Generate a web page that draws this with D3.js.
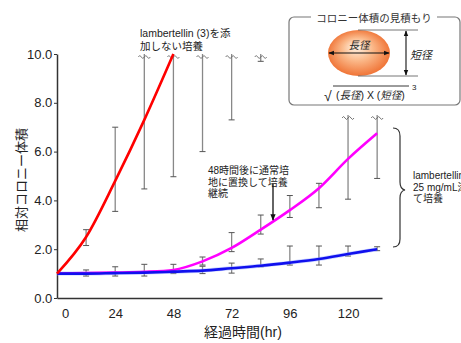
<!DOCTYPE html>
<html>
<head>
<meta charset="utf-8">
<script src="https://cdn.jsdelivr.net/npm/d3@7"></script>
<style>
  body { margin: 0; background: #fff; }
  text { font-family: "Liberation Sans", Arial, sans-serif; }
  .jp { font-family: "Liberation Sans", "Noto Sans CJK JP", sans-serif; }
</style>
</head>
<body>
<div id="chart"></div>
<script>
// Data (hours, relative colony volume)
const hours = [0, 12, 24, 36, 48, 60, 72, 84, 96, 108, 120, 132];
const redHours = [0, 12, 24, 36, 48];
const redMean = [1.0, 2.5, 4.8, 7.3, 10.0];
const magentaMean = [1.0, 1.02, 1.04, 1.07, 1.15, 1.5, 2.05, 2.8, 3.6, 4.5, 5.7, 6.75];
const blueMean = [1.0, 1.0, 1.02, 1.04, 1.08, 1.12, 1.22, 1.32, 1.45, 1.6, 1.8, 2.0];

const redBarHours = [12, 24, 36, 48, 60, 72, 84];
const redLow = [2.15, 3.55, 4.47, 4.97, 6.0, 7.3, 9.7];
const redHigh = [2.8, 7.0, 12, 12, 12, 12, 12];
const redCut = 10;

const magBarHours = [60, 72, 84, 96, 108, 120, 132];
const magLow = [1.35, 1.9, 2.62, 3.3, 3.7, 4.05, 4.9];
const magHigh = [1.68, 2.68, 3.4, 4.2, 4.7, 9, 9];
const magCut = 7.5;

const blueBarHours = [12, 24, 36, 48, 60, 72, 84, 96, 108, 120, 132];
const blueLow = [0.9, 0.9, 0.9, 1.0, 1.0, 1.02, 1.28, 1.35, 1.35, 1.72, 1.94];
const blueHigh = [1.15, 1.28, 1.38, 1.38, 1.3, 1.43, 1.6, 2.13, 2.13, 2.13, 2.1];

const yTicks = [0, 2, 4, 6, 8, 10];
const xTicks = [0, 24, 48, 72, 96, 120];

const width = 461, height = 343;
const svg = d3.select('#chart').append('svg')
  .attr('width', width).attr('height', height);

const x = d3.scaleLinear().domain([0, 134]).range([57, 382]);
const y = d3.scaleLinear().domain([0, 10]).range([298, 54]);

const defs = svg.append('defs');
const grad = defs.append('radialGradient').attr('id', 'egg')
  .attr('cx', '50%').attr('cy', '50%').attr('r', '55%')
  .attr('fx', '45%').attr('fy', '35%');
grad.append('stop').attr('offset', '0%').attr('stop-color', '#fff6ea');
grad.append('stop').attr('offset', '45%').attr('stop-color', '#fbb98a');
grad.append('stop').attr('offset', '100%').attr('stop-color', '#ee6a2a');

defs.append('marker').attr('id', 'arr')
  .attr('viewBox', '0 0 10 10').attr('refX', 9).attr('refY', 5)
  .attr('markerWidth', 5).attr('markerHeight', 5)
  .attr('orient', 'auto-start-reverse')
  .append('path').attr('d', 'M0,1 L10,5 L0,9 z').attr('fill', '#111');

// Axes
const yAxis = svg.append('g').attr('transform', `translate(${x(0)},0)`)
  .call(d3.axisLeft(y).tickValues(yTicks).tickSize(3).tickSizeOuter(0)
    .tickFormat(d3.format('.1f')));
yAxis.selectAll('text').attr('font-size', '13px').attr('fill', '#222').attr('dx', '0.1em');
yAxis.selectAll('line').attr('stroke', '#333');
yAxis.select('path').attr('stroke', '#333').attr('stroke-width', 1.5);

const xAxis = svg.append('g').attr('transform', `translate(0,${y(0)})`)
  .call(d3.axisBottom(x).tickValues(xTicks).tickSize(0).tickSizeOuter(0));
xAxis.selectAll('text').attr('font-size', '13px').attr('fill', '#222').attr('dy', '1.3em')
  .attr('dx', d => d === 0 ? 8 : 0);
xAxis.select('path').attr('stroke', '#333').attr('stroke-width', 1.5);

svg.append('text').attr('class', 'jp')
  .attr('transform', `translate(26,180) rotate(-90)`)
  .attr('text-anchor', 'middle').attr('font-size', '13px').attr('fill', '#222')
  .text('相対コロニー体積');

svg.append('text').attr('class', 'jp')
  .attr('x', 243).attr('y', 337).attr('text-anchor', 'middle')
  .attr('font-size', '14px').attr('fill', '#222')
  .text('経過時間(hr)');

// Error bars
function errorBars(barHours, low, high, cut) {
  const g = svg.append('g');
  barHours.forEach((h, i) => {
    const cx = x(h);
    const clipped = cut !== undefined && high[i] > cut;
    const top = clipped ? y(cut) : y(high[i]);
    g.append('line').attr('x1', cx).attr('x2', cx)
      .attr('y1', y(low[i])).attr('y2', top)
      .attr('stroke', '#888').attr('stroke-width', 1.3);
    g.append('line').attr('x1', cx - 3).attr('x2', cx + 3)
      .attr('y1', y(low[i])).attr('y2', y(low[i]))
      .attr('stroke', '#555').attr('stroke-width', 1);
    if (clipped) {
      const wy = top + 3;
      g.append('path')
        .attr('d', `M${cx - 6},${wy} q1.5,-3 3,0 t3,0 t3,0 t3,0`)
        .attr('fill', 'none').attr('stroke', '#666').attr('stroke-width', 0.9);
    } else {
      g.append('line').attr('x1', cx - 3).attr('x2', cx + 3)
        .attr('y1', top).attr('y2', top)
        .attr('stroke', '#555').attr('stroke-width', 1);
    }
  });
}
errorBars(redBarHours, redLow, redHigh, redCut);
errorBars(magBarHours, magLow, magHigh, magCut);
errorBars(blueBarHours, blueLow, blueHigh);

// Curves
const line = d3.line().x(d => x(d[0])).y(d => y(d[1])).curve(d3.curveMonotoneX);
svg.append('path').datum(hours.map((h, i) => [h, blueMean[i]]))
  .attr('fill', 'none').attr('stroke', '#9aaeff').attr('stroke-width', 4).attr('opacity', 0.5)
  .attr('d', line);
svg.append('path').datum(hours.map((h, i) => [h, magentaMean[i]]))
  .attr('fill', 'none').attr('stroke', '#ff00ff').attr('stroke-width', 2.6)
  .attr('d', line);
svg.append('path').datum(hours.map((h, i) => [h, blueMean[i]]))
  .attr('fill', 'none').attr('stroke', '#1010ee').attr('stroke-width', 2.6)
  .attr('d', line);
svg.append('path').datum(redHours.map((h, i) => [h, redMean[i]]))
  .attr('fill', 'none').attr('stroke', '#ff0000').attr('stroke-width', 2.6)
  .attr('d', line);

// Annotations
const note = (lines, x0, y0, lh, size) => {
  const t = svg.append('text').attr('class', 'jp')
    .attr('font-size', size).attr('fill', '#222');
  lines.forEach((s, i) => t.append('tspan').attr('x', x0).attr('y', y0 + i * lh).text(s));
};
note(['lambertellin (3)を添', '加しない培養'], 140, 37, 12.5, '10.5px');
note(['48時間後に通常培', '地に置換して培養', '継続'], 208, 174, 11.5, '10px');
note(['lambertellin', '25 mg/mL添加し', 'て培養'], 413, 179, 11.5, '10px');

svg.append('line').attr('x1', 273).attr('x2', 273).attr('y1', 184).attr('y2', 220)
  .attr('stroke', '#111').attr('stroke-width', 1.3).attr('marker-end', 'url(#arr)');

// Brace
svg.append('path')
  .attr('d', 'M393,128 Q400,128 400,136 L400,182 Q400,189 405,190 Q400,191 400,198 L400,239 Q400,247 393,247')
  .attr('fill', 'none').attr('stroke', '#333').attr('stroke-width', 1.2);

// Inset: colony volume estimate
const inset = svg.append('g');
inset.append('rect').attr('x', 289).attr('y', 17).attr('width', 171).attr('height', 88)
  .attr('rx', 5).attr('fill', '#fff').attr('stroke', '#777').attr('stroke-width', 1.2);
inset.append('rect').attr('x', 311).attr('y', 12).attr('width', 126).attr('height', 10).attr('fill', '#fff');
inset.append('text').attr('class', 'jp').attr('x', 374).attr('y', 22)
  .attr('text-anchor', 'middle').attr('font-size', '10.5px').attr('fill', '#333')
  .text('コロニー体積の見積もり');

inset.append('ellipse').attr('cx', 359).attr('cy', 53).attr('rx', 31).attr('ry', 23)
  .attr('fill', 'url(#egg)');
inset.append('line').attr('x1', 358).attr('x2', 418).attr('y1', 30).attr('y2', 30)
  .attr('stroke', '#666').attr('stroke-width', 0.9);
inset.append('line').attr('x1', 358).attr('x2', 418).attr('y1', 76).attr('y2', 76)
  .attr('stroke', '#666').attr('stroke-width', 0.9);
inset.append('line').attr('x1', 329).attr('x2', 389).attr('y1', 53).attr('y2', 53)
  .attr('stroke', '#111').attr('stroke-width', 1.1)
  .attr('marker-start', 'url(#arr)').attr('marker-end', 'url(#arr)');
inset.append('line').attr('x1', 406).attr('x2', 406).attr('y1', 31).attr('y2', 75)
  .attr('stroke', '#111').attr('stroke-width', 1.1)
  .attr('marker-start', 'url(#arr)').attr('marker-end', 'url(#arr)');
inset.append('text').attr('class', 'jp').attr('x', 359).attr('y', 49)
  .attr('text-anchor', 'middle').attr('font-size', '10.5px').attr('font-style', 'italic')
  .attr('fill', '#222').text('長径');
inset.append('text').attr('class', 'jp').attr('x', 410).attr('y', 59)
  .attr('font-size', '11px').attr('font-style', 'italic').attr('fill', '#222').text('短径');

inset.append('text').attr('x', 324).attr('y', 101).attr('font-size', '14px')
  .attr('fill', '#222').text('√');
inset.append('line').attr('x1', 333).attr('x2', 409).attr('y1', 86).attr('y2', 86)
  .attr('stroke', '#222').attr('stroke-width', 0.9);
const f = inset.append('text').attr('class', 'jp').attr('x', 336).attr('y', 99)
  .attr('font-size', '10.5px').attr('fill', '#222');
f.append('tspan').text('(');
f.append('tspan').attr('font-style', 'italic').text('長径');
f.append('tspan').text(') X (');
f.append('tspan').attr('font-style', 'italic').text('短径');
f.append('tspan').text(')');
inset.append('text').attr('x', 412).attr('y', 90).attr('font-size', '8px')
  .attr('fill', '#222').text('3');
</script>
</body>
</html>
